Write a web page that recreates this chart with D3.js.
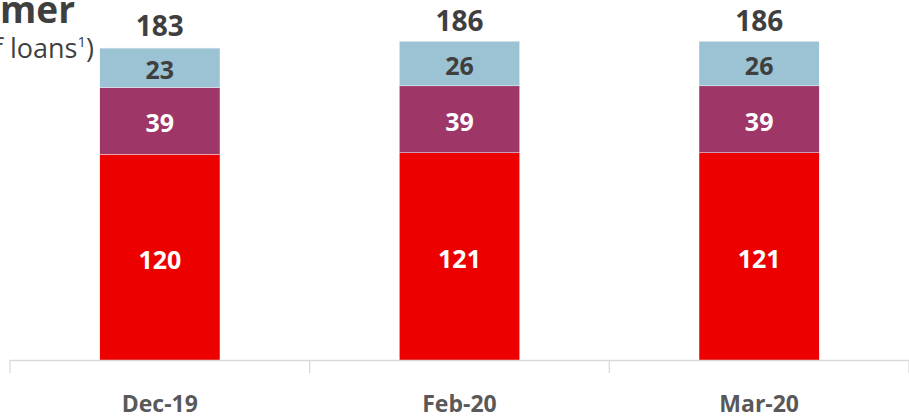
<!DOCTYPE html>
<html>
<head>
<meta charset="utf-8">
<script src="https://cdn.jsdelivr.net/npm/d3@7"></script>
<style>
  html, body { margin: 0; padding: 0; background: #fff; }
  svg { display: block; }
</style>
</head>
<body>
<svg id="chart" width="909" height="419"></svg>
<script>
// Consumer breakdown, three month-end snapshots
const categories = ["Dec-19", "Feb-20", "Mar-20"];
const seriesNames = ["base", "middle", "top"];
const baseValues = [120, 121, 121];
const middleValues = [39, 39, 39];
const topValues = [23, 26, 26];
const totals = [183, 186, 186];

const colors = { base: "#EC0000", middle: "#9E3667", top: "#9BC3D3" };
const labelColors = { base: "#ffffff", middle: "#ffffff", top: "#3f3f3f" };

const rows = categories.map((c, i) => ({
  cat: c, base: baseValues[i], middle: middleValues[i], top: topValues[i], total: totals[i]
}));

const svg = d3.select("#chart");
const font = "'Open Sans', 'Noto Sans', sans-serif";

const x = d3.scaleBand().domain(categories).range([10, 909]).paddingInner(0.6).paddingOuter(0.3);
const y = d3.scaleLinear().domain([0, 186]).range([360, 41]);

const stack = d3.stack().keys(seriesNames)(rows);

// stacked segments
const layers = svg.append("g").selectAll("g").data(stack).join("g")
  .attr("fill", d => colors[d.key]);
layers.selectAll("rect").data(d => d.map(v => Object.assign({}, v, { key: d.key }))).join("rect")
  .attr("x", d => x(d.data.cat))
  .attr("width", x.bandwidth())
  .attr("y", d => y(d[1]))
  .attr("height", d => y(d[0]) - y(d[1]));

// thin white separators between segments
layers.selectAll("line").data(d => d).join("line")
  .attr("x1", d => x(d.data.cat)).attr("x2", d => x(d.data.cat) + x.bandwidth())
  .attr("y1", d => y(d[1])).attr("y2", d => y(d[1]))
  .attr("stroke", "#fff").attr("stroke-width", 1);

// segment value labels
layers.selectAll("text").data(d => d.map(v => Object.assign({}, v, { key: d.key }))).join("text")
  .attr("x", d => x(d.data.cat) + x.bandwidth() / 2)
  .attr("y", d => (y(d[0]) + y(d[1])) / 2)
  .attr("dy", "0.46em")
  .attr("text-anchor", "middle")
  .attr("font-family", font).attr("font-weight", 700).attr("font-size", 25)
  .attr("fill", d => labelColors[d.key])
  .text(d => d[1] - d[0]);

// totals above bars
svg.append("g").selectAll("text").data(rows).join("text")
  .attr("x", d => x(d.cat) + x.bandwidth() / 2)
  .attr("y", d => y(d.total) - 10)
  .attr("text-anchor", "middle")
  .attr("font-family", font).attr("font-weight", 700).attr("font-size", 28)
  .attr("fill", "#3f3f3f")
  .text(d => d.total);

// category axis with boundary ticks
const axisG = svg.append("g");
axisG.append("line").attr("x1", 10).attr("x2", 909).attr("y1", 360.5).attr("y2", 360.5)
  .attr("stroke", "#d9d9d9").attr("stroke-width", 1.3);
const step = x.step();
const edges = [10].concat(categories.map(c => x(c) + x.bandwidth() + (step - x.bandwidth()) / 2));
axisG.selectAll("line.tick").data(edges).join("line")
  .attr("class", "tick")
  .attr("x1", d => d).attr("x2", d => d).attr("y1", 360).attr("y2", 373)
  .attr("stroke", "#d9d9d9").attr("stroke-width", 1.3);
axisG.selectAll("text").data(categories).join("text")
  .attr("x", d => x(d) + x.bandwidth() / 2)
  .attr("y", 412)
  .attr("text-anchor", "middle")
  .attr("font-family", font).attr("font-weight", 700).attr("font-size", 23)
  .attr("fill", "#595959")
  .text(d => d);

// title block, partly off the left edge
svg.append("text").attr("x", 75).attr("y", 23).attr("text-anchor", "end")
  .attr("font-family", font).attr("font-weight", 700).attr("font-size", 37)
  .attr("fill", "#3f3f3f").text("Consumer");
const sub = svg.append("text").attr("x", 94).attr("y", 58).attr("text-anchor", "end")
  .attr("font-family", font).attr("font-size", 27).attr("fill", "#3f3f3f");
sub.append("tspan").text("(% of loans");
sub.append("tspan").attr("font-size", 15).attr("dy", -11).text("1");
sub.append("tspan").attr("dy", 11).text(")");
</script>
</body>
</html>
